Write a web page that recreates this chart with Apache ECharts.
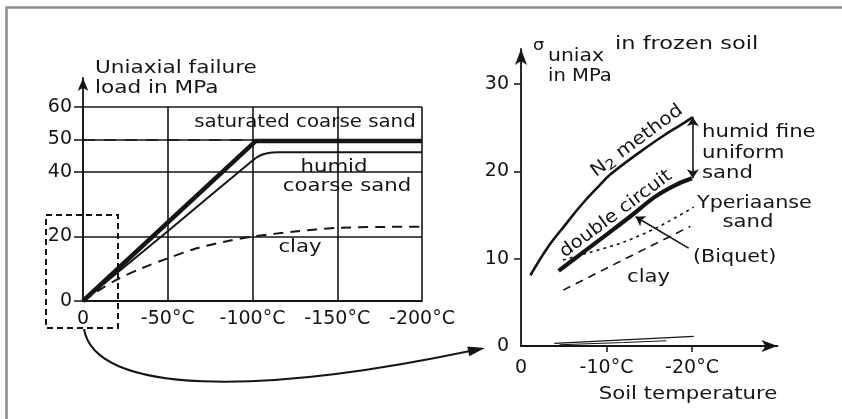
<!DOCTYPE html>
<html>
<head>
<meta charset="utf-8">
<script src="https://cdn.jsdelivr.net/npm/echarts@6/dist/echarts.min.js"></script>
<style>
html,body{margin:0;padding:0;background:#fff;}
#c{width:842px;height:419px;}
</style>
</head>
<body>
<div id="c"></div>
<script>
// ---- Left chart: uniaxial failure load (MPa) vs temperature (°C) ----
const satTemp   = [0, -102, -200];
const satLoad   = [0, 49.5, 49.5];
const humidTemp = [0, -50, -99, -103, -108, -115, -200];
const humidLoad = [0, 21.6, 43, 44.6, 45.6, 46, 46];
const clayTemp  = [0, -10, -20, -35, -50, -67, -85, -100, -125, -150, -175, -200];
const clayLoad  = [0, 3.5, 6.6, 10.2, 13.2, 16.3, 18.5, 19.9, 21.5, 22.6, 22.9, 23];
const leftYLabels = [0, 20, 40, 50, 60];
const leftDashRef = 50;

// ---- Right chart: sigma uniax (MPa) vs soil temperature (°C) ----
const n2Temp   = [-1.1, -3.2, -5.2, -7.1, -9.1, -10.4, -13.9, -16.7, -18.5, -20.1];
const n2Val    = [8.1, 11.4, 13.9, 16.2, 18.3, 19.6, 22.2, 24.1, 25.2, 26.2];
const dcTemp   = [-4.4, -7.1, -10.2, -13.0, -15.7, -18.0, -20.0];
const dcVal    = [8.6, 10.6, 12.9, 15.0, 17.1, 18.4, 19.2];
const ypTemp   = [-4.9, -8, -12, -16, -20.2];
const ypVal    = [9.85, 10.7, 11.9, 13.6, 15.9];
const clay2Temp = [-4.95, -10.0, -15.1, -19.8];
const clay2Val  = [6.4, 8.9, 11.4, 13.7];
const lowATemp = [-3.9, -12, -20.2];
const lowAVal  = [0.3, 0.7, 1.1];
const lowBTemp = [-4.5, -12, -17];
const lowBVal  = [0.15, 0.4, 0.6];
const rightXLabels = [0, -10, -20];
const rightYLabels = [0, 10, 20, 30];
const humidRange = [19.2, 26.2];   // vertical double arrow at -20.1 °C
const biquetFrom = [-13.4, 14.8];
const biquetTo   = [-19.6, 11.2];

const pairs = (xs, ys) => xs.map((x, i) => [x, ys[i]]);
const INK = '#151515';
const FONT = 'DejaVu Sans';
const degFmt = v => (v === 0 ? '0' : v + '°C');

const chart = echarts.init(document.getElementById('c'), null, {renderer: 'canvas'});

const txt = (text, x, y, opt = {}) => ({
  type: 'text', x: x, y: y, rotation: opt.rotation || 0,
  scaleX: opt.sx || 1.18,
  style: Object.assign({
    text: text, fill: INK, font: (opt.size || 18) + 'px "' + FONT + '"',
    textAlign: opt.align || 'left', textVerticalAlign: 'middle'
  }, opt.style || {})
});

const option = {
  backgroundColor: '#ffffff',
  animation: false,
  textStyle: {fontFamily: FONT, color: INK},
  grid: [
    {left: 83, top: 107, width: 339, height: 194},
    {left: 83, top: 78, width: 339, height: 223},
    {left: 521, top: 49, width: 256.5, height: 297}
  ],
  xAxis: [
    {
      gridIndex: 0, type: 'value', min: -200, max: 0, interval: 50, inverse: true,
      axisLine: {show: true, lineStyle: {color: INK, width: 1.8}},
      axisTick: {show: false},
      splitLine: {show: true, lineStyle: {color: INK, width: 1.6}},
      axisLabel: {formatter: degFmt, fontSize: 19, color: INK, margin: 9, fontFamily: FONT}
    },
    {gridIndex: 1, type: 'value', min: -200, max: 0, inverse: true, show: false},
    {
      gridIndex: 2, type: 'value', min: -30, max: 0, interval: 10, inverse: true,
      axisLine: {show: true, symbol: ['none', 'arrow'], symbolSize: [9, 16], lineStyle: {color: INK, width: 1.8}},
      axisTick: {show: true, customValues: [-10, -20], length: 6, lineStyle: {color: INK, width: 1.5}},
      splitLine: {show: false},
      axisLabel: {customValues: rightXLabels, formatter: degFmt, fontSize: 19, color: INK, margin: 13, fontFamily: FONT}
    }
  ],
  yAxis: [
    {
      gridIndex: 0, type: 'value', min: 0, max: 60, interval: 20,
      axisLine: {show: false},
      axisTick: {show: true, customValues: leftYLabels, length: 9, lineStyle: {color: INK, width: 1.5}},
      splitLine: {show: true, lineStyle: {color: INK, width: 1.6}},
      axisLabel: {customValues: leftYLabels, fontSize: 19, color: INK, margin: 11, fontFamily: FONT}
    },
    {
      gridIndex: 1, type: 'value', min: 0, max: 69,
      axisLine: {show: true, symbol: ['none', 'arrow'], symbolSize: [8, 13], lineStyle: {color: INK, width: 1.8}},
      axisTick: {show: false}, axisLabel: {show: false}, splitLine: {show: false}
    },
    {
      gridIndex: 2, type: 'value', min: 0, max: 34, interval: 10,
      axisLine: {show: true, symbol: ['none', 'arrow'], symbolSize: [9, 16], lineStyle: {color: INK, width: 1.8}},
      axisTick: {show: true, customValues: [10, 20, 30], length: 7, lineStyle: {color: INK, width: 1.5}},
      splitLine: {show: false},
      axisLabel: {customValues: rightYLabels, fontSize: 19, color: INK, margin: 12, fontFamily: FONT}
    }
  ],
  series: [
    {
      name: 'saturated coarse sand', type: 'line', xAxisIndex: 0, yAxisIndex: 0,
      data: pairs(satTemp, satLoad), symbol: 'none',
      lineStyle: {color: INK, width: 4.5},
      markLine: {
        silent: true, symbol: 'none', label: {show: false},
        lineStyle: {color: INK, width: 1.6, type: [12, 9]},
        data: [[{coord: [0, leftDashRef]}, {coord: [-100, leftDashRef]}]]
      }
    },
    {
      name: 'humid coarse sand', type: 'line', xAxisIndex: 0, yAxisIndex: 0,
      data: pairs(humidTemp, humidLoad), symbol: 'none', smooth: 0.25,
      lineStyle: {color: INK, width: 2}
    },
    {
      name: 'clay', type: 'line', xAxisIndex: 0, yAxisIndex: 0,
      data: pairs(clayTemp, clayLoad), symbol: 'none', smooth: 0.3,
      lineStyle: {color: INK, width: 2, type: [10, 7]}
    },
    {
      name: 'N2 method', type: 'line', xAxisIndex: 2, yAxisIndex: 2,
      data: pairs(n2Temp, n2Val), symbol: 'none', smooth: 0.4,
      lineStyle: {color: INK, width: 2.6}
    },
    {
      name: 'double circuit', type: 'line', xAxisIndex: 2, yAxisIndex: 2,
      data: pairs(dcTemp, dcVal), symbol: 'none', smooth: 0.35,
      lineStyle: {color: INK, width: 4.2},
      markLine: {
        silent: true, label: {show: false}, symbolSize: 9,
        lineStyle: {color: INK, width: 1.6, type: 'solid'},
        data: [
          [{coord: [-20.1, humidRange[0]], symbol: 'arrow'}, {coord: [-20.1, humidRange[1]], symbol: 'arrow'}],
          [{coord: biquetFrom, symbol: 'arrow'}, {coord: biquetTo, symbol: 'none'}]
        ]
      }
    },
    {
      name: 'Yperiaanse sand', type: 'line', xAxisIndex: 2, yAxisIndex: 2,
      data: pairs(ypTemp, ypVal), symbol: 'none', smooth: 0.3,
      lineStyle: {color: INK, width: 1.6, type: [3, 4]}
    },
    {
      name: 'clay (right)', type: 'line', xAxisIndex: 2, yAxisIndex: 2,
      data: pairs(clay2Temp, clay2Val), symbol: 'none', smooth: 0.3,
      lineStyle: {color: INK, width: 1.6, type: [8, 6]}
    },
    {
      name: 'low A', type: 'line', xAxisIndex: 2, yAxisIndex: 2,
      data: pairs(lowATemp, lowAVal), symbol: 'none',
      lineStyle: {color: INK, width: 1.4}
    },
    {
      name: 'low B', type: 'line', xAxisIndex: 2, yAxisIndex: 2,
      data: pairs(lowBTemp, lowBVal), symbol: 'none',
      lineStyle: {color: INK, width: 1.1}
    }
  ],
  graphic: [
    // grey frame (cropped at right/bottom)
    {type: 'rect', shape: {x: 6.5, y: 7.5, width: 900, height: 500},
     style: {fill: 'none', stroke: '#8c8c8c', lineWidth: 2.5}, silent: true},
    // dashed zoom box around the origin of the left chart
    {type: 'rect', shape: {x: 46, y: 215, width: 72, height: 113},
     style: {fill: 'none', stroke: INK, lineWidth: 2, lineDash: [6, 4]}, silent: true},
    // curved connecting arrow
    {type: 'bezierCurve', shape: {x1: 84, y1: 329, cpx1: 95, cpy1: 395, cpx2: 260, cpy2: 395, x2: 470, y2: 351},
     style: {fill: 'none', stroke: INK, lineWidth: 2}, silent: true},
    {type: 'polygon', shape: {points: [[485, 348], [469.3, 356.2], [467.3, 346.4]]},
     style: {fill: INK}, silent: true},

    // left texts
    txt('Uniaxial failure', 95, 68, {sx: 1.2}),
    txt('load in MPa', 95, 88, {sx: 1.2}),
    txt('saturated coarse sand', 305, 122, {align: 'center', sx: 1.1}),
    txt('humid', 334, 167, {align: 'center'}),
    txt('coarse sand', 347, 186, {align: 'center'}),
    txt('clay', 300, 247, {align: 'center'}),

    // right texts
    txt('σ', 533, 46, {size: 16, sx: 1.1}),
    txt('uniax', 548, 57, {size: 17, sx: 1.2}),
    txt('in frozen soil', 615, 44, {sx: 1.25}),
    txt('in MPa', 548, 77, {size: 17, sx: 1.15}),
    {type: 'text', x: 637, y: 141, rotation: 36.5 * Math.PI / 180, scaleX: 1.12,
     style: {rich: {n: {fontSize: 18, fontFamily: FONT, fill: INK}, s: {fontSize: 14, fontFamily: FONT, fill: INK, padding: [8, 0, 0, 0]}},
             text: '{n|N}{s|2}{n| method}', textAlign: 'center', textVerticalAlign: 'middle', fill: INK}},
    txt('double circuit', 616, 214, {align: 'center', rotation: 36.6 * Math.PI / 180, sx: 1.1}),
    txt('humid fine', 702, 132),
    txt('uniform', 702, 153),
    txt('sand', 702, 173),
    txt('Yperiaanse', 697, 203, {sx: 1.15}),
    txt('sand', 748, 222, {align: 'center'}),
    txt('(Biquet)', 693, 257, {sx: 1.15}),
    txt('clay', 627, 277),
    txt('Soil temperature', 688, 394, {align: 'center'})
  ]
};

chart.setOption(option);
</script>
</body>
</html>
